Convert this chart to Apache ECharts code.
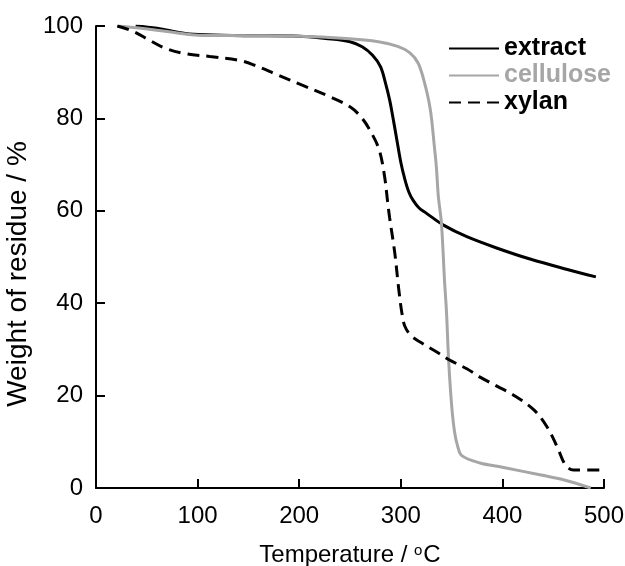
<!DOCTYPE html>
<html>
<head>
<meta charset="utf-8">
<script src="https://cdn.jsdelivr.net/npm/echarts@6/dist/echarts.min.js"></script>
<style>
  html, body { margin: 0; padding: 0; background: #fff; }
  #main { width: 625px; height: 566px; }
</style>
</head>
<body>
<div id="main"></div>
<script>
// TGA curves (temperature in oC, weight of residue in %)
var extractT = [39, 60, 88, 108, 150, 200, 226, 250, 262, 272, 280, 285, 289, 292, 296, 300, 304, 308, 312, 318, 325, 342, 365, 395, 428, 464, 492];
var extractW = [100, 99.5, 98.4, 98.1, 97.9, 97.8, 97.3, 96.6, 95.5, 93.7, 91.2, 87.6, 84, 80.5, 75.5, 70.5, 66.8, 64, 62.3, 60.6, 59.5, 56.9, 54.4, 51.9, 49.5, 47.3, 45.7];

var celluloseT = [21, 40, 60, 80, 100, 150, 200, 246, 278, 297, 309, 317, 323, 329, 333, 335, 337, 340, 343, 345, 347, 350, 353, 356, 360, 378, 400, 438, 460, 487];
var celluloseW = [100, 99.6, 99.1, 98.5, 98, 97.9, 97.8, 97.3, 96.6, 95.6, 94.2, 92, 88, 82, 74, 69.5, 63, 57.3, 45, 38, 28, 18, 12, 9, 7, 5.4, 4.5, 2.8, 1.8, 0];

var xylanT = [21, 37, 52, 68, 88, 112, 140, 155, 179, 203, 230, 250, 262, 272, 279, 284, 287, 289, 294, 298, 301, 304, 310, 319, 335, 348, 365, 378, 395, 411, 431, 444, 454, 462, 470, 500];
var xylanW = [100, 98.8, 97, 95.2, 94, 93.4, 92.6, 91.6, 89.4, 87.2, 84.7, 82.5, 80, 76.5, 73, 67.5, 62, 58.5, 51, 43, 38, 35, 33, 31.6, 29.5, 27.7, 25.8, 24, 22, 20.1, 16.9, 13.2, 8.9, 5, 3.9, 3.9];

var xTicks = [0, 100, 200, 300, 400, 500];
var yTicks = [0, 20, 40, 60, 80, 100];

function pairs(xs, ys) {
    var out = [];
    for (let i = 0; i < xs.length; i++) {
        out.push([xs[i], ys[i]]);
    }
    return out;
}

var FONT = 'Liberation Sans';
var GREY = '#a6a6a6';

var myChart = echarts.init(document.getElementById('main'));

var axisCommon = {
    axisLine: { show: true, lineStyle: { color: '#000', width: 2 } },
    axisTick: { show: true, inside: true, length: 9, lineStyle: { color: '#000', width: 2 } },
    splitLine: { show: false }
};

var option = {
    backgroundColor: '#fff',
    animation: false,
    grid: { left: 96, right: 21, top: 26, bottom: 78, containLabel: false, outerBoundsMode: 'none' },
    xAxis: Object.assign({}, axisCommon, {
        type: 'value',
        min: xTicks[0],
        max: xTicks[xTicks.length - 1],
        interval: 100,
        name: 'Temperature / {sup|o}C',
        nameLocation: 'middle',
        nameGap: 55,
        nameTextStyle: {
            color: '#000', fontFamily: FONT, fontSize: 24,
            rich: {
                sup: { fontFamily: FONT, fontSize: 15, color: '#000', verticalAlign: 'top', padding: [0, 1, 10, 0] }
            }
        },
        axisLabel: { color: '#000', fontFamily: FONT, fontSize: 24, margin: 16 }
    }),
    yAxis: Object.assign({}, axisCommon, {
        type: 'value',
        min: yTicks[0],
        max: yTicks[yTicks.length - 1],
        interval: 20,
        name: 'Weight of residue / %',
        nameLocation: 'middle',
        nameGap: 54,
        // extra right padding pushes the rotated title down a little
        nameTextStyle: { color: '#000', fontFamily: FONT, fontSize: 28, padding: [0, 34, 0, 0] },
        axisLabel: { color: '#000', fontFamily: FONT, fontSize: 24, margin: 13 }
    }),
    legend: {
        orient: 'vertical',
        left: 448,
        top: 36,
        padding: 0,
        itemWidth: 50,
        itemHeight: 14,
        itemGap: 2,
        itemStyle: { opacity: 0 },
        textStyle: { fontFamily: FONT, fontSize: 25, fontWeight: 'bold', color: '#000' },
        data: [
            { name: 'extract' },
            { name: 'cellulose', textStyle: { color: GREY } },
            { name: 'xylan' }
        ]
    },
    series: [
        {
            name: 'extract', type: 'line', symbol: 'none', smooth: 0.35,
            lineStyle: { color: '#000', width: 3 }, itemStyle: { color: '#000' },
            data: pairs(extractT, extractW)
        },
        {
            name: 'cellulose', type: 'line', symbol: 'none', smooth: 0.35,
            lineStyle: { color: GREY, width: 3 }, itemStyle: { color: GREY },
            data: pairs(celluloseT, celluloseW)
        },
        {
            name: 'xylan', type: 'line', symbol: 'none', smooth: 0.35,
            lineStyle: { color: '#000', width: 3, type: [12, 7] }, itemStyle: { color: '#000' },
            data: pairs(xylanT, xylanW)
        }
    ]
};

myChart.setOption(option);
</script>
</body>
</html>
